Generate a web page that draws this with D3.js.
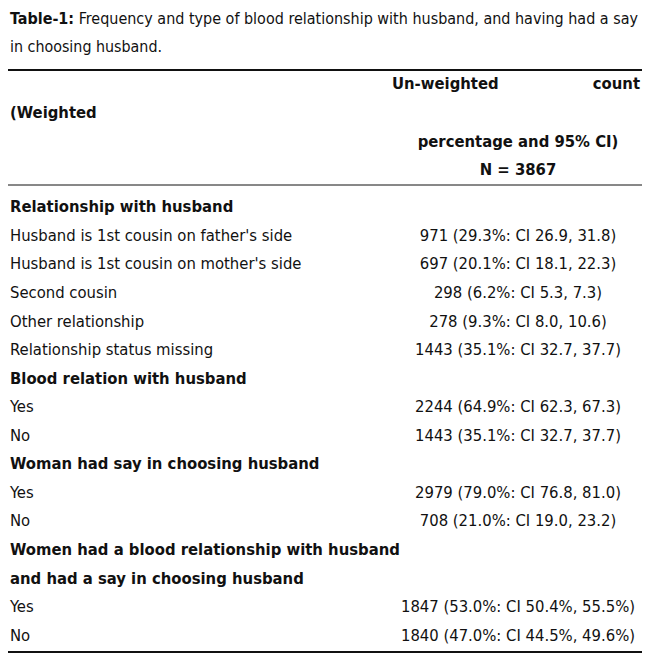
<!DOCTYPE html>
<html lang="en">
<head>
<meta charset="UTF-8">
<script src="https://d3js.org/d3.v7.min.js"></script>
<style>
  body { margin: 0; background: #fff; }
  text { font-family: "Liberation Sans Narrow", "DejaVu Sans Condensed", sans-serif; font-size: 16.5px; fill: #111; }
  .bold { font-weight: bold; }
</style>
</head>
<body>
<svg></svg>
<script>
// Table rows: label, value text, bold section header or not
const labels = [
  "Relationship with husband",
  "Husband is 1st cousin on father's side",
  "Husband is 1st cousin on mother's side",
  "Second cousin",
  "Other relationship",
  "Relationship status missing",
  "Blood relation with husband",
  "Yes",
  "No",
  "Woman had say in choosing husband",
  "Yes",
  "No",
  "Women had a blood relationship with husband",
  "and had a say in choosing husband",
  "Yes",
  "No"
];
const values = [
  "", "971 (29.3%: CI 26.9, 31.8)", "697 (20.1%: CI 18.1, 22.3)",
  "298 (6.2%: CI 5.3, 7.3)", "278 (9.3%: CI 8.0, 10.6)",
  "1443 (35.1%: CI 32.7, 37.7)", "", "2244 (64.9%: CI 62.3, 67.3)",
  "1443 (35.1%: CI 32.7, 37.7)", "", "2979 (79.0%: CI 76.8, 81.0)",
  "708 (21.0%: CI 19.0, 23.2)", "", "",
  "1847 (53.0%: CI 50.4%, 55.5%)", "1840 (47.0%: CI 44.5%, 49.6%)"
];
const headers = [0, 6, 9, 12, 13];

const width = 650, height = 662;
const svg = d3.select("svg").attr("width", width).attr("height", height);

// Title (squeezed to fit the width)
const t1 = svg.append("text").attr("x", 10).attr("y", 24)
  .attr("textLength", 628).attr("lengthAdjust", "spacingAndGlyphs");
t1.append("tspan").attr("class", "bold").text("Table-1:");
t1.append("tspan").text(" Frequency and type of blood relationship with husband, and having had a say");
svg.append("text").attr("x", 10).attr("y", 52)
  .attr("textLength", 152).attr("lengthAdjust", "spacingAndGlyphs")
  .text("in choosing husband.");

// Rules
const rule = (y, w) => svg.append("line").attr("x1", 8).attr("x2", 642)
  .attr("y1", y).attr("y2", y).attr("stroke", "#111").attr("stroke-width", w);
rule(70, 2);
rule(185, 1);
rule(652, 2);

// Header block
const colC = 518;
svg.append("text").attr("class", "bold").attr("x", 392).attr("y", 89).text("Un-weighted");
svg.append("text").attr("class", "bold").attr("x", 640).attr("y", 89).attr("text-anchor", "end").text("count");
svg.append("text").attr("class", "bold").attr("x", 10).attr("y", 118).text("(Weighted");
svg.append("text").attr("class", "bold").attr("x", colC).attr("y", 147).attr("text-anchor", "middle").text("percentage and 95% CI)");
svg.append("text").attr("class", "bold").attr("x", colC).attr("y", 175).attr("text-anchor", "middle").text("N = 3867");

// Body rows
const y = d3.scaleBand().domain(d3.range(labels.length)).range([192, 649]);
const rows = svg.selectAll("g.row").data(labels).join("g")
  .attr("transform", (d, i) => `translate(0,${y(i) + y.bandwidth() / 2 + 6})`);
rows.append("text").attr("x", 10)
  .attr("class", (d, i) => headers.includes(i) ? "bold" : null)
  .text(d => d);
rows.append("text").attr("x", colC).attr("text-anchor", "middle")
  .text((d, i) => values[i]);
</script>
</body>
</html>
